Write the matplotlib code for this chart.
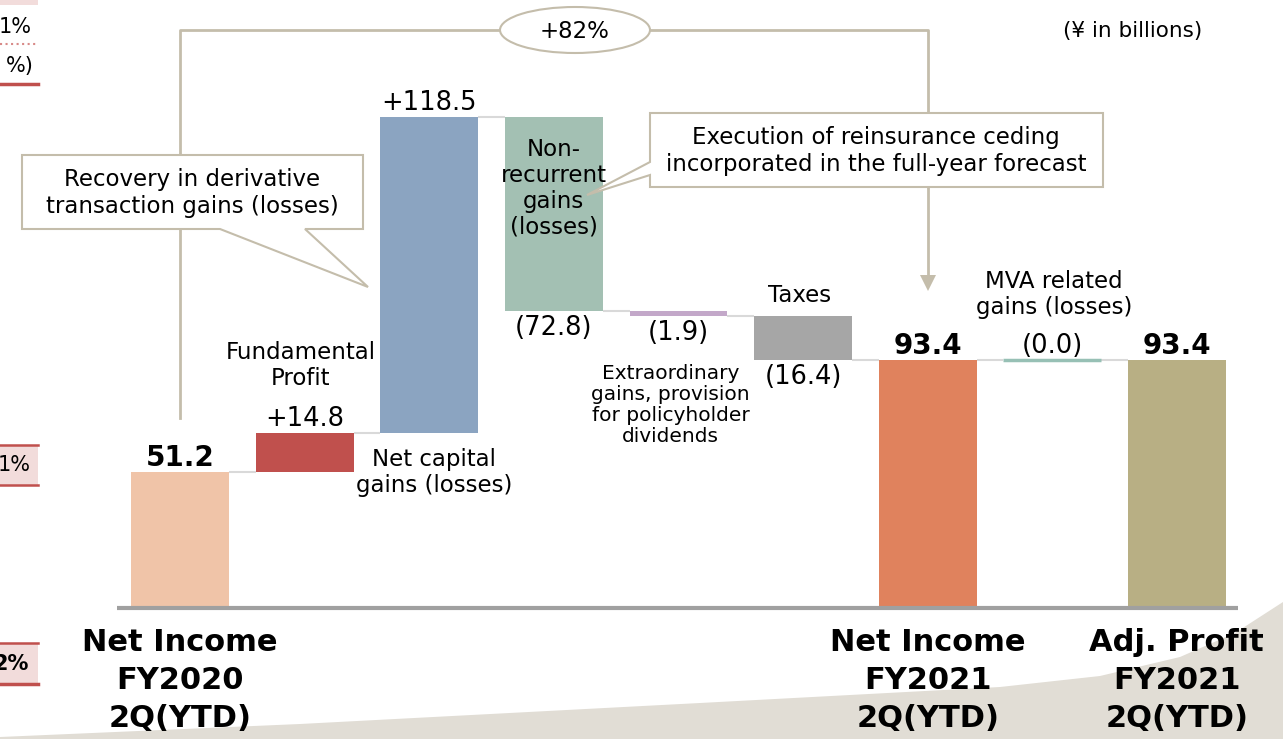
import matplotlib
matplotlib.use("Agg")
import matplotlib.pyplot as plt
import matplotlib.transforms as mtransforms
from matplotlib.patches import Ellipse, Polygon, Rectangle
import numpy as np

plt.rcParams["font.family"] = ["DejaVu Sans"]

# ---- data -------------------------------------------------------------
categories = [
    "Net Income\nFY2020\n2Q(YTD)",
    "Fundamental\nProfit",
    "Net capital\ngains (losses)",
    "Non-\nrecurrent\ngains\n(losses)",
    "Extraordinary\ngains, provision\nfor policyholder\ndividends",
    "Taxes",
    "Net Income\nFY2021\n2Q(YTD)",
    "MVA related\ngains (losses)",
    "Adj. Profit\nFY2021\n2Q(YTD)",
]
values = [51.2, 14.8, 118.5, -72.8, -1.9, -16.4, 93.4, 0.0, 93.4]
is_total = [True, False, False, False, False, False, True, False, True]
value_labels = ["51.2", "+14.8", "+118.5", "(72.8)", "(1.9)", "(16.4)", "93.4", "(0.0)", "93.4"]
colors = ["#F0C4A8", "#C0504D", "#8BA4C1", "#A3C0B3", "#C3A8C9",
          "#A6A6A6", "#E0825D", "#97C0B5", "#B8AF84"]
growth_label = "+82%"
unit_label = "(\u00a5 in billions)"
note_left = "Recovery in derivative\ntransaction gains (losses)"
note_right = "Execution of reinsurance ceding\nincorporated in the full-year forecast"

LINE = "#C4BDAB"
W, H = 1283, 739


def pt(p):
    # pixels -> points at dpi 100
    return p * 0.72


fig = plt.figure(figsize=(W / 100, H / 100), dpi=100)
ax = fig.add_axes([0, 0, 1, 1])
ax.set_xlim(-1.4446, 8.852)
ax.set_ylim(-49.2, 228.6)
ax.axis("off")

# pixel transform (origin top-left) for slide decorations
pxt = mtransforms.Affine2D().scale(1 / W, -1 / H).translate(0, 1) + fig.transFigure

# background swoosh at the bottom right
swoosh = [(0, 739), (0, 737), (300, 724), (700, 703), (1000, 687), (1100, 676),
          (1180, 657), (1235, 633), (1283, 602), (1283, 739)]
ax.add_patch(Polygon(swoosh, closed=True, transform=pxt, facecolor="#E1DDD5",
                     edgecolor="none", zorder=0))

# cropped bits of the neighbouring slide on the left edge
ax.add_patch(Rectangle((0, 0), 38, 5, transform=pxt, facecolor="#F2DCDB", edgecolor="none"))
ax.text(32, 27, "1%", transform=pxt, ha="right", va="center", fontsize=15)
ax.plot([0, 38], [44, 44], transform=pxt, color="#D88A88", lw=1.5, ls=":")
ax.text(34, 66, "%)", transform=pxt, ha="right", va="center", fontsize=15)
ax.plot([0, 38], [84, 84], transform=pxt, color="#C0504D", lw=2.5)
ax.add_patch(Rectangle((0, 445), 38, 40, transform=pxt, facecolor="#F2DCDB", edgecolor="none"))
ax.plot([0, 38], [445, 445], transform=pxt, color="#C0504D", lw=1.8)
ax.plot([0, 38], [485, 485], transform=pxt, color="#C0504D", lw=1.8)
ax.text(31, 465, "1%", transform=pxt, ha="right", va="center", fontsize=15)
ax.add_patch(Rectangle((0, 643), 38, 41, transform=pxt, facecolor="#F2DCDB", edgecolor="none"))
ax.plot([0, 38], [643, 643], transform=pxt, color="#C0504D", lw=1.8)
ax.plot([0, 38], [684, 684], transform=pxt, color="#C0504D", lw=2.5)
ax.text(29, 664, "2%", transform=pxt, ha="right", va="center", fontsize=15, fontweight="bold")

# ---- waterfall ----------------------------------------------------------
x = np.arange(len(values))
width = 0.785
bottoms, heights, levels = [], [], []
running = 0.0
for v, tot in zip(values, is_total):
    if tot:
        bottoms.append(0.0)
        heights.append(v)
        running = v
    else:
        bottoms.append(min(running, running + v))
        heights.append(abs(v))
        running += v
    levels.append(running)
bottoms = np.array(bottoms)
heights = np.array(heights)
tops = bottoms + heights

ax.bar(x, heights, bottom=bottoms, width=width, color=colors, zorder=3)
for i in x:
    if heights[i] == 0:
        ax.hlines(bottoms[i], i - width / 2, i + width / 2, color=colors[i], lw=2.5, zorder=3)

# connectors
for i in range(len(values) - 1):
    ax.hlines(levels[i], x[i] + width / 2, x[i + 1] - width / 2, color="#D9D9D9", lw=1.5, zorder=2)

# baseline
ax.hlines(0, x[0] - 0.505, x[-1] + 0.49, color="#A0A0A0", lw=3, zorder=4)

# value labels
for i in x:
    bold = is_total[i]
    if values[i] < 0:
        xy, dy = (i, bottoms[i]), -17
    else:
        xy, dy = (i, tops[i]), 14
    ax.annotate(value_labels[i], xy=xy, xytext=(0, pt(dy)), textcoords="offset points",
                ha="center", va="center", fontsize=20 if bold else 18.5,
                fontweight="bold" if bold else "normal", zorder=6)

# category labels
for i in x:
    if is_total[i]:
        ax.annotate(categories[i], xy=(i, 0), xytext=(0, pt(-20)), textcoords="offset points",
                    ha="center", va="top", fontsize=22, fontweight="bold", linespacing=1.38)
label_pos = {
    1: ("top", -4, 67, 16.5),
    2: ("bottom", 5, -40, 16.5),
    3: ("top", 0, -71, 16.5),
    4: ("bottom", -8, -89, 14.5),
    5: ("top", -3, 21, 16.5),
    7: ("top", 2, 65, 16.5),
}
for i, (anchor, dx, dy, fs) in label_pos.items():
    y0 = tops[i] if anchor == "top" else bottoms[i]
    ax.annotate(categories[i], xy=(i, y0), xytext=(pt(dx), pt(dy)), textcoords="offset points",
                ha="center", va="center", fontsize=fs, linespacing=1.15, zorder=6)

# ---- +82% bracket -----------------------------------------------------
ax.plot([180, 180, 500], [418, 30, 30], transform=pxt, color=LINE, lw=2, zorder=1)
ax.plot([650, 928, 928], [30, 30, 278], transform=pxt, color=LINE, lw=2, zorder=1)
ax.add_patch(Polygon([(920, 275), (936, 275), (928, 291)], closed=True, transform=pxt,
                     facecolor=LINE, edgecolor="none", zorder=1))
ax.add_patch(Ellipse((575, 30), 150, 46, transform=pxt, facecolor="white",
                     edgecolor=LINE, lw=1.5, zorder=5))
ax.text(575, 31, growth_label, transform=pxt, ha="center", va="center", fontsize=16.5, zorder=6)
ax.text(1133, 31, unit_label, transform=pxt, ha="center", va="center", fontsize=15.5)

# ---- callouts ------------------------------------------------------------
call1 = [(22, 155), (363, 155), (363, 229), (305, 229), (368, 287), (220, 229), (22, 229)]
ax.add_patch(Polygon(call1, closed=True, transform=pxt, facecolor="white",
                     edgecolor=LINE, lw=1.5, zorder=7))
ax.text(192, 193, note_left, transform=pxt, ha="center", va="center",
        fontsize=16.5, linespacing=1.2, zorder=8)

call2 = [(650, 113), (1103, 113), (1103, 187), (650, 187), (650, 175), (587, 195), (650, 162)]
ax.add_patch(Polygon(call2, closed=True, transform=pxt, facecolor="white",
                     edgecolor=LINE, lw=1.5, zorder=7))
ax.text(876, 151, note_right, transform=pxt, ha="center", va="center",
        fontsize=16.5, linespacing=1.2, zorder=8)

fig.savefig("out.png", dpi=100)
plt.close(fig)
